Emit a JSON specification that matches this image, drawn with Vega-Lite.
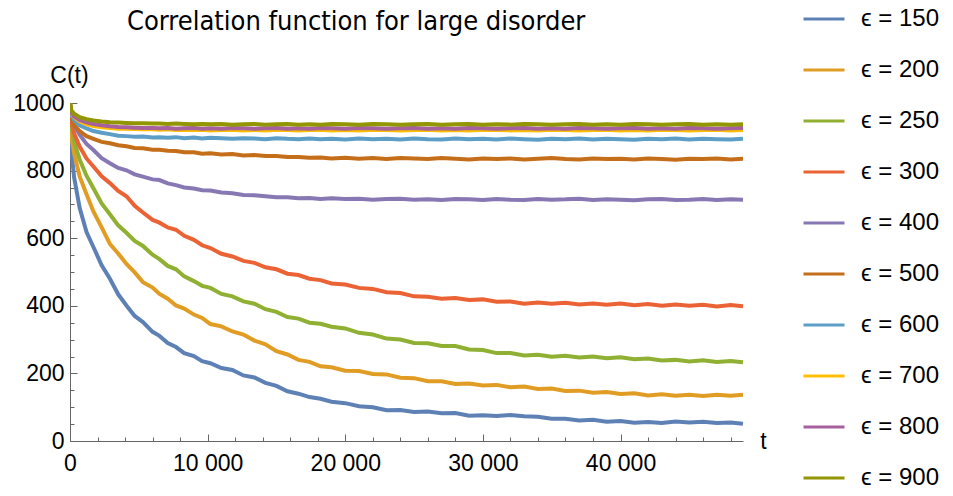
{
"$schema": "https://vega.github.io/schema/vega-lite/v6.json",
"width": 673, "height": 338, "autosize": "none",
"padding": {"left": 70, "top": 103, "right": 210, "bottom": 55},
"background": "white",
"config": {"view": {"stroke": null}, "font": "Liberation Sans"},
"title": {"text": "Correlation function for large disorder", "font": "DejaVu Sans Condensed", "fontSize": 27, "fontWeight": "normal", "color": "black", "anchor": "start", "frame": "group", "dx": 57, "offset": 0, "dy": 39},
"data": {"values": [
{"e":"150","t":0,"c":1000},{"e":"150","t":100,"c":860},{"e":"150","t":300,"c":780},{"e":"150","t":700,"c":690},{"e":"150","t":1200,"c":618},{"e":"150","t":1700,"c":574},{"e":"150","t":2300,"c":520},{"e":"150","t":2900,"c":480},{"e":"150","t":3500,"c":434},{"e":"150","t":4100,"c":401},{"e":"150","t":4700,"c":370},{"e":"150","t":5300,"c":352},{"e":"150","t":6000,"c":323},{"e":"150","t":6500,"c":311},{"e":"150","t":7100,"c":290},{"e":"150","t":7700,"c":278},{"e":"150","t":8300,"c":260},{"e":"150","t":9000,"c":251},{"e":"150","t":9600,"c":236},{"e":"150","t":10200,"c":230},{"e":"150","t":11000,"c":216},{"e":"150","t":11800,"c":210},{"e":"150","t":12600,"c":194},{"e":"150","t":13400,"c":188},{"e":"150","t":14200,"c":172},{"e":"150","t":15000,"c":163},{"e":"150","t":15800,"c":147},{"e":"150","t":16600,"c":140},{"e":"150","t":17400,"c":130},{"e":"150","t":18200,"c":125},{"e":"150","t":19000,"c":116},{"e":"150","t":20000,"c":112},{"e":"150","t":21000,"c":103},{"e":"150","t":22000,"c":100},{"e":"150","t":23000,"c":91},{"e":"150","t":24000,"c":92},{"e":"150","t":25000,"c":86},{"e":"150","t":26000,"c":87},{"e":"150","t":27000,"c":82},{"e":"150","t":28000,"c":83},{"e":"150","t":29000,"c":75},{"e":"150","t":30000,"c":76},{"e":"150","t":31000,"c":74},{"e":"150","t":32000,"c":77},{"e":"150","t":33000,"c":73},{"e":"150","t":34000,"c":72},{"e":"150","t":35000,"c":66},{"e":"150","t":36000,"c":66},{"e":"150","t":37000,"c":61},{"e":"150","t":38000,"c":63},{"e":"150","t":39000,"c":57},{"e":"150","t":40000,"c":59},{"e":"150","t":41000,"c":54},{"e":"150","t":42000,"c":56},{"e":"150","t":43000,"c":53},{"e":"150","t":44000,"c":58},{"e":"150","t":45000,"c":55},{"e":"150","t":46000,"c":57},{"e":"150","t":47000,"c":53},{"e":"150","t":48000,"c":55},{"e":"150","t":48900,"c":51},
{"e":"200","t":0,"c":1000},{"e":"200","t":100,"c":900},{"e":"200","t":300,"c":850},{"e":"200","t":700,"c":783},{"e":"200","t":1200,"c":730},{"e":"200","t":1700,"c":679},{"e":"200","t":2300,"c":632},{"e":"200","t":2900,"c":583},{"e":"200","t":3500,"c":555},{"e":"200","t":4100,"c":524},{"e":"200","t":4700,"c":499},{"e":"200","t":5300,"c":470},{"e":"200","t":6000,"c":454},{"e":"200","t":6500,"c":435},{"e":"200","t":7100,"c":421},{"e":"200","t":7700,"c":401},{"e":"200","t":8300,"c":392},{"e":"200","t":9000,"c":374},{"e":"200","t":9600,"c":364},{"e":"200","t":10200,"c":346},{"e":"200","t":11000,"c":339},{"e":"200","t":11800,"c":324},{"e":"200","t":12600,"c":315},{"e":"200","t":13400,"c":297},{"e":"200","t":14200,"c":286},{"e":"200","t":15000,"c":266},{"e":"200","t":15800,"c":256},{"e":"200","t":16600,"c":240},{"e":"200","t":17400,"c":234},{"e":"200","t":18200,"c":221},{"e":"200","t":19000,"c":218},{"e":"200","t":20000,"c":208},{"e":"200","t":21000,"c":207},{"e":"200","t":22000,"c":198},{"e":"200","t":23000,"c":197},{"e":"200","t":24000,"c":187},{"e":"200","t":25000,"c":186},{"e":"200","t":26000,"c":177},{"e":"200","t":27000,"c":177},{"e":"200","t":28000,"c":169},{"e":"200","t":29000,"c":170},{"e":"200","t":30000,"c":164},{"e":"200","t":31000,"c":166},{"e":"200","t":32000,"c":159},{"e":"200","t":33000,"c":161},{"e":"200","t":34000,"c":154},{"e":"200","t":35000,"c":155},{"e":"200","t":36000,"c":148},{"e":"200","t":37000,"c":149},{"e":"200","t":38000,"c":143},{"e":"200","t":39000,"c":145},{"e":"200","t":40000,"c":139},{"e":"200","t":41000,"c":141},{"e":"200","t":42000,"c":135},{"e":"200","t":43000,"c":138},{"e":"200","t":44000,"c":134},{"e":"200","t":45000,"c":137},{"e":"200","t":46000,"c":133},{"e":"200","t":47000,"c":137},{"e":"200","t":48000,"c":134},{"e":"200","t":48900,"c":137},
{"e":"250","t":0,"c":1000},{"e":"250","t":100,"c":930},{"e":"250","t":300,"c":885},{"e":"250","t":700,"c":833},{"e":"250","t":1200,"c":785},{"e":"250","t":1700,"c":748},{"e":"250","t":2300,"c":703},{"e":"250","t":2900,"c":671},{"e":"250","t":3500,"c":638},{"e":"250","t":4100,"c":616},{"e":"250","t":4700,"c":592},{"e":"250","t":5300,"c":577},{"e":"250","t":6000,"c":551},{"e":"250","t":6500,"c":538},{"e":"250","t":7100,"c":518},{"e":"250","t":7700,"c":508},{"e":"250","t":8300,"c":487},{"e":"250","t":9000,"c":473},{"e":"250","t":9600,"c":459},{"e":"250","t":10200,"c":453},{"e":"250","t":11000,"c":435},{"e":"250","t":11800,"c":428},{"e":"250","t":12600,"c":413},{"e":"250","t":13400,"c":406},{"e":"250","t":14200,"c":390},{"e":"250","t":15000,"c":382},{"e":"250","t":15800,"c":367},{"e":"250","t":16600,"c":362},{"e":"250","t":17400,"c":350},{"e":"250","t":18200,"c":347},{"e":"250","t":19000,"c":338},{"e":"250","t":20000,"c":333},{"e":"250","t":21000,"c":320},{"e":"250","t":22000,"c":315},{"e":"250","t":23000,"c":303},{"e":"250","t":24000,"c":300},{"e":"250","t":25000,"c":290},{"e":"250","t":26000,"c":289},{"e":"250","t":27000,"c":281},{"e":"250","t":28000,"c":281},{"e":"250","t":29000,"c":271},{"e":"250","t":30000,"c":269},{"e":"250","t":31000,"c":260},{"e":"250","t":32000,"c":260},{"e":"250","t":33000,"c":253},{"e":"250","t":34000,"c":255},{"e":"250","t":35000,"c":249},{"e":"250","t":36000,"c":252},{"e":"250","t":37000,"c":247},{"e":"250","t":38000,"c":250},{"e":"250","t":39000,"c":245},{"e":"250","t":40000,"c":248},{"e":"250","t":41000,"c":242},{"e":"250","t":42000,"c":244},{"e":"250","t":43000,"c":238},{"e":"250","t":44000,"c":240},{"e":"250","t":45000,"c":235},{"e":"250","t":46000,"c":239},{"e":"250","t":47000,"c":234},{"e":"250","t":48000,"c":237},{"e":"250","t":48900,"c":233},
{"e":"300","t":0,"c":1000},{"e":"300","t":100,"c":945},{"e":"300","t":300,"c":910},{"e":"300","t":700,"c":871},{"e":"300","t":1200,"c":836},{"e":"300","t":1700,"c":812},{"e":"300","t":2300,"c":783},{"e":"300","t":2900,"c":763},{"e":"300","t":3500,"c":740},{"e":"300","t":4100,"c":724},{"e":"300","t":4700,"c":696},{"e":"300","t":5300,"c":676},{"e":"300","t":6000,"c":654},{"e":"300","t":6500,"c":646},{"e":"300","t":7100,"c":632},{"e":"300","t":7700,"c":625},{"e":"300","t":8300,"c":607},{"e":"300","t":9000,"c":595},{"e":"300","t":9600,"c":579},{"e":"300","t":10200,"c":571},{"e":"300","t":11000,"c":554},{"e":"300","t":11800,"c":546},{"e":"300","t":12600,"c":533},{"e":"300","t":13400,"c":527},{"e":"300","t":14200,"c":514},{"e":"300","t":15000,"c":508},{"e":"300","t":15800,"c":495},{"e":"300","t":16600,"c":491},{"e":"300","t":17400,"c":480},{"e":"300","t":18200,"c":476},{"e":"300","t":19000,"c":466},{"e":"300","t":20000,"c":463},{"e":"300","t":21000,"c":453},{"e":"300","t":22000,"c":450},{"e":"300","t":23000,"c":440},{"e":"300","t":24000,"c":438},{"e":"300","t":25000,"c":428},{"e":"300","t":26000,"c":427},{"e":"300","t":27000,"c":421},{"e":"300","t":28000,"c":423},{"e":"300","t":29000,"c":417},{"e":"300","t":30000,"c":419},{"e":"300","t":31000,"c":412},{"e":"300","t":32000,"c":413},{"e":"300","t":33000,"c":406},{"e":"300","t":34000,"c":410},{"e":"300","t":35000,"c":406},{"e":"300","t":36000,"c":409},{"e":"300","t":37000,"c":404},{"e":"300","t":38000,"c":407},{"e":"300","t":39000,"c":403},{"e":"300","t":40000,"c":407},{"e":"300","t":41000,"c":402},{"e":"300","t":42000,"c":405},{"e":"300","t":43000,"c":400},{"e":"300","t":44000,"c":404},{"e":"300","t":45000,"c":400},{"e":"300","t":46000,"c":403},{"e":"300","t":47000,"c":398},{"e":"300","t":48000,"c":402},{"e":"300","t":48900,"c":399},
{"e":"400","t":0,"c":1000},{"e":"400","t":100,"c":960},{"e":"400","t":300,"c":935},{"e":"400","t":700,"c":906},{"e":"400","t":1200,"c":879},{"e":"400","t":1700,"c":861},{"e":"400","t":2300,"c":837},{"e":"400","t":2900,"c":822},{"e":"400","t":3500,"c":808},{"e":"400","t":4100,"c":801},{"e":"400","t":4700,"c":789},{"e":"400","t":5300,"c":782},{"e":"400","t":6000,"c":774},{"e":"400","t":6500,"c":772},{"e":"400","t":7100,"c":762},{"e":"400","t":7700,"c":757},{"e":"400","t":8300,"c":750},{"e":"400","t":9000,"c":747},{"e":"400","t":9600,"c":742},{"e":"400","t":10200,"c":741},{"e":"400","t":11000,"c":735},{"e":"400","t":11800,"c":733},{"e":"400","t":12600,"c":728},{"e":"400","t":13400,"c":727},{"e":"400","t":14200,"c":724},{"e":"400","t":15000,"c":721},{"e":"400","t":15800,"c":721},{"e":"400","t":16600,"c":718},{"e":"400","t":17400,"c":719},{"e":"400","t":18200,"c":716},{"e":"400","t":19000,"c":718},{"e":"400","t":20000,"c":716},{"e":"400","t":21000,"c":717},{"e":"400","t":22000,"c":714},{"e":"400","t":23000,"c":716},{"e":"400","t":24000,"c":717},{"e":"400","t":25000,"c":714},{"e":"400","t":26000,"c":715},{"e":"400","t":27000,"c":713},{"e":"400","t":28000,"c":716},{"e":"400","t":29000,"c":715},{"e":"400","t":30000,"c":713},{"e":"400","t":31000,"c":716},{"e":"400","t":32000,"c":714},{"e":"400","t":33000,"c":713},{"e":"400","t":34000,"c":716},{"e":"400","t":35000,"c":714},{"e":"400","t":36000,"c":715},{"e":"400","t":37000,"c":717},{"e":"400","t":38000,"c":713},{"e":"400","t":39000,"c":715},{"e":"400","t":40000,"c":714},{"e":"400","t":41000,"c":712},{"e":"400","t":42000,"c":715},{"e":"400","t":43000,"c":716},{"e":"400","t":44000,"c":713},{"e":"400","t":45000,"c":714},{"e":"400","t":46000,"c":716},{"e":"400","t":47000,"c":713},{"e":"400","t":48000,"c":715},{"e":"400","t":48900,"c":714},
{"e":"500","t":0,"c":1000},{"e":"500","t":100,"c":955},{"e":"500","t":300,"c":934},{"e":"500","t":700,"c":917},{"e":"500","t":1200,"c":902},{"e":"500","t":1700,"c":894},{"e":"500","t":2300,"c":885},{"e":"500","t":2900,"c":881},{"e":"500","t":3500,"c":875},{"e":"500","t":4100,"c":872},{"e":"500","t":4700,"c":867},{"e":"500","t":5300,"c":866},{"e":"500","t":6000,"c":862},{"e":"500","t":6500,"c":862},{"e":"500","t":7100,"c":859},{"e":"500","t":7700,"c":858},{"e":"500","t":8300,"c":854},{"e":"500","t":9000,"c":854},{"e":"500","t":9600,"c":850},{"e":"500","t":10200,"c":851},{"e":"500","t":11000,"c":848},{"e":"500","t":11800,"c":849},{"e":"500","t":12600,"c":845},{"e":"500","t":13400,"c":846},{"e":"500","t":14200,"c":843},{"e":"500","t":15000,"c":843},{"e":"500","t":15800,"c":840},{"e":"500","t":16600,"c":840},{"e":"500","t":17400,"c":838},{"e":"500","t":18200,"c":839},{"e":"500","t":19000,"c":836},{"e":"500","t":20000,"c":838},{"e":"500","t":21000,"c":835},{"e":"500","t":22000,"c":837},{"e":"500","t":23000,"c":834},{"e":"500","t":24000,"c":837},{"e":"500","t":25000,"c":836},{"e":"500","t":26000,"c":834},{"e":"500","t":27000,"c":837},{"e":"500","t":28000,"c":835},{"e":"500","t":29000,"c":833},{"e":"500","t":30000,"c":836},{"e":"500","t":31000,"c":834},{"e":"500","t":32000,"c":836},{"e":"500","t":33000,"c":833},{"e":"500","t":34000,"c":835},{"e":"500","t":35000,"c":837},{"e":"500","t":36000,"c":834},{"e":"500","t":37000,"c":833},{"e":"500","t":38000,"c":836},{"e":"500","t":39000,"c":834},{"e":"500","t":40000,"c":835},{"e":"500","t":41000,"c":833},{"e":"500","t":42000,"c":836},{"e":"500","t":43000,"c":834},{"e":"500","t":44000,"c":832},{"e":"500","t":45000,"c":835},{"e":"500","t":46000,"c":834},{"e":"500","t":47000,"c":836},{"e":"500","t":48000,"c":833},{"e":"500","t":48900,"c":835},
{"e":"600","t":0,"c":1000},{"e":"600","t":100,"c":965},{"e":"600","t":300,"c":950},{"e":"600","t":700,"c":934},{"e":"600","t":1200,"c":925},{"e":"600","t":1700,"c":917},{"e":"600","t":2300,"c":912},{"e":"600","t":2900,"c":908},{"e":"600","t":3500,"c":903},{"e":"600","t":4100,"c":902},{"e":"600","t":4700,"c":900},{"e":"600","t":5300,"c":901},{"e":"600","t":6000,"c":898},{"e":"600","t":6500,"c":899},{"e":"600","t":7100,"c":897},{"e":"600","t":7700,"c":899},{"e":"600","t":8300,"c":896},{"e":"600","t":9000,"c":898},{"e":"600","t":9600,"c":895},{"e":"600","t":10200,"c":897},{"e":"600","t":11000,"c":896},{"e":"600","t":11800,"c":894},{"e":"600","t":12600,"c":896},{"e":"600","t":13400,"c":895},{"e":"600","t":14200,"c":893},{"e":"600","t":15000,"c":896},{"e":"600","t":15800,"c":894},{"e":"600","t":16600,"c":893},{"e":"600","t":17400,"c":895},{"e":"600","t":18200,"c":893},{"e":"600","t":19000,"c":894},{"e":"600","t":20000,"c":892},{"e":"600","t":21000,"c":895},{"e":"600","t":22000,"c":893},{"e":"600","t":23000,"c":894},{"e":"600","t":24000,"c":892},{"e":"600","t":25000,"c":895},{"e":"600","t":26000,"c":893},{"e":"600","t":27000,"c":892},{"e":"600","t":28000,"c":895},{"e":"600","t":29000,"c":893},{"e":"600","t":30000,"c":894},{"e":"600","t":31000,"c":892},{"e":"600","t":32000,"c":895},{"e":"600","t":33000,"c":893},{"e":"600","t":34000,"c":891},{"e":"600","t":35000,"c":894},{"e":"600","t":36000,"c":893},{"e":"600","t":37000,"c":895},{"e":"600","t":38000,"c":892},{"e":"600","t":39000,"c":894},{"e":"600","t":40000,"c":893},{"e":"600","t":41000,"c":891},{"e":"600","t":42000,"c":894},{"e":"600","t":43000,"c":893},{"e":"600","t":44000,"c":895},{"e":"600","t":45000,"c":892},{"e":"600","t":46000,"c":894},{"e":"600","t":47000,"c":893},{"e":"600","t":48000,"c":892},{"e":"600","t":48900,"c":894},
{"e":"700","t":0,"c":1000},{"e":"700","t":100,"c":970},{"e":"700","t":300,"c":958},{"e":"700","t":700,"c":946},{"e":"700","t":1200,"c":937},{"e":"700","t":1700,"c":932},{"e":"700","t":2300,"c":928},{"e":"700","t":2900,"c":926},{"e":"700","t":3500,"c":924},{"e":"700","t":4100,"c":924},{"e":"700","t":4700,"c":923},{"e":"700","t":5300,"c":922},{"e":"700","t":6000,"c":922},{"e":"700","t":6500,"c":921},{"e":"700","t":7100,"c":922},{"e":"700","t":7700,"c":920},{"e":"700","t":8300,"c":921},{"e":"700","t":9000,"c":920},{"e":"700","t":9600,"c":921},{"e":"700","t":10200,"c":919},{"e":"700","t":11000,"c":920},{"e":"700","t":11800,"c":921},{"e":"700","t":12600,"c":919},{"e":"700","t":13400,"c":920},{"e":"700","t":14200,"c":919},{"e":"700","t":15000,"c":921},{"e":"700","t":15800,"c":920},{"e":"700","t":16600,"c":919},{"e":"700","t":17400,"c":920},{"e":"700","t":18200,"c":921},{"e":"700","t":19000,"c":919},{"e":"700","t":20000,"c":920},{"e":"700","t":21000,"c":919},{"e":"700","t":22000,"c":921},{"e":"700","t":23000,"c":920},{"e":"700","t":24000,"c":919},{"e":"700","t":25000,"c":920},{"e":"700","t":26000,"c":921},{"e":"700","t":27000,"c":919},{"e":"700","t":28000,"c":920},{"e":"700","t":29000,"c":919},{"e":"700","t":30000,"c":921},{"e":"700","t":31000,"c":920},{"e":"700","t":32000,"c":919},{"e":"700","t":33000,"c":920},{"e":"700","t":34000,"c":919},{"e":"700","t":35000,"c":921},{"e":"700","t":36000,"c":920},{"e":"700","t":37000,"c":919},{"e":"700","t":38000,"c":920},{"e":"700","t":39000,"c":921},{"e":"700","t":40000,"c":919},{"e":"700","t":41000,"c":920},{"e":"700","t":42000,"c":919},{"e":"700","t":43000,"c":921},{"e":"700","t":44000,"c":920},{"e":"700","t":45000,"c":919},{"e":"700","t":46000,"c":920},{"e":"700","t":47000,"c":921},{"e":"700","t":48000,"c":919},{"e":"700","t":48900,"c":920},
{"e":"800","t":0,"c":1000},{"e":"800","t":100,"c":972},{"e":"800","t":300,"c":960},{"e":"800","t":700,"c":950},{"e":"800","t":1200,"c":943},{"e":"800","t":1700,"c":938},{"e":"800","t":2300,"c":934},{"e":"800","t":2900,"c":931},{"e":"800","t":3500,"c":929},{"e":"800","t":4100,"c":928},{"e":"800","t":4700,"c":927},{"e":"800","t":5300,"c":926},{"e":"800","t":6000,"c":926},{"e":"800","t":6500,"c":925},{"e":"800","t":7100,"c":926},{"e":"800","t":7700,"c":924},{"e":"800","t":8300,"c":925},{"e":"800","t":9000,"c":926},{"e":"800","t":9600,"c":924},{"e":"800","t":10200,"c":925},{"e":"800","t":11000,"c":924},{"e":"800","t":11800,"c":926},{"e":"800","t":12600,"c":925},{"e":"800","t":13400,"c":924},{"e":"800","t":14200,"c":925},{"e":"800","t":15000,"c":926},{"e":"800","t":15800,"c":924},{"e":"800","t":16600,"c":925},{"e":"800","t":17400,"c":924},{"e":"800","t":18200,"c":926},{"e":"800","t":19000,"c":925},{"e":"800","t":20000,"c":924},{"e":"800","t":21000,"c":926},{"e":"800","t":22000,"c":925},{"e":"800","t":23000,"c":924},{"e":"800","t":24000,"c":925},{"e":"800","t":25000,"c":926},{"e":"800","t":26000,"c":924},{"e":"800","t":27000,"c":925},{"e":"800","t":28000,"c":924},{"e":"800","t":29000,"c":926},{"e":"800","t":30000,"c":925},{"e":"800","t":31000,"c":924},{"e":"800","t":32000,"c":925},{"e":"800","t":33000,"c":926},{"e":"800","t":34000,"c":924},{"e":"800","t":35000,"c":925},{"e":"800","t":36000,"c":924},{"e":"800","t":37000,"c":926},{"e":"800","t":38000,"c":925},{"e":"800","t":39000,"c":924},{"e":"800","t":40000,"c":925},{"e":"800","t":41000,"c":926},{"e":"800","t":42000,"c":924},{"e":"800","t":43000,"c":925},{"e":"800","t":44000,"c":924},{"e":"800","t":45000,"c":926},{"e":"800","t":46000,"c":925},{"e":"800","t":47000,"c":924},{"e":"800","t":48000,"c":925},{"e":"800","t":48900,"c":926},
{"e":"900","t":0,"c":1000},{"e":"900","t":100,"c":978},{"e":"900","t":300,"c":968},{"e":"900","t":700,"c":958},{"e":"900","t":1200,"c":952},{"e":"900","t":1700,"c":948},{"e":"900","t":2300,"c":945},{"e":"900","t":2900,"c":943},{"e":"900","t":3500,"c":942},{"e":"900","t":4100,"c":941},{"e":"900","t":4700,"c":940},{"e":"900","t":5300,"c":940},{"e":"900","t":6000,"c":939},{"e":"900","t":6500,"c":939},{"e":"900","t":7100,"c":938},{"e":"900","t":7700,"c":939},{"e":"900","t":8300,"c":938},{"e":"900","t":9000,"c":937},{"e":"900","t":9600,"c":938},{"e":"900","t":10200,"c":937},{"e":"900","t":11000,"c":938},{"e":"900","t":11800,"c":936},{"e":"900","t":12600,"c":937},{"e":"900","t":13400,"c":938},{"e":"900","t":14200,"c":936},{"e":"900","t":15000,"c":937},{"e":"900","t":15800,"c":938},{"e":"900","t":16600,"c":936},{"e":"900","t":17400,"c":937},{"e":"900","t":18200,"c":936},{"e":"900","t":19000,"c":938},{"e":"900","t":20000,"c":937},{"e":"900","t":21000,"c":936},{"e":"900","t":22000,"c":938},{"e":"900","t":23000,"c":937},{"e":"900","t":24000,"c":936},{"e":"900","t":25000,"c":937},{"e":"900","t":26000,"c":938},{"e":"900","t":27000,"c":936},{"e":"900","t":28000,"c":937},{"e":"900","t":29000,"c":938},{"e":"900","t":30000,"c":936},{"e":"900","t":31000,"c":937},{"e":"900","t":32000,"c":936},{"e":"900","t":33000,"c":938},{"e":"900","t":34000,"c":937},{"e":"900","t":35000,"c":936},{"e":"900","t":36000,"c":937},{"e":"900","t":37000,"c":938},{"e":"900","t":38000,"c":936},{"e":"900","t":39000,"c":937},{"e":"900","t":40000,"c":936},{"e":"900","t":41000,"c":938},{"e":"900","t":42000,"c":937},{"e":"900","t":43000,"c":936},{"e":"900","t":44000,"c":937},{"e":"900","t":45000,"c":938},{"e":"900","t":46000,"c":936},{"e":"900","t":47000,"c":937},{"e":"900","t":48000,"c":936},{"e":"900","t":48900,"c":937}
]},
"layer": [
{"mark": {"type": "line", "opacity": 0},
 "encoding": {
  "detail": {"field": "e", "type": "nominal"},
  "x": {"field": "t", "type": "quantitative", "scale": {"domain": [0, 48900], "nice": false, "zero": false},
        "axis": {"orient": "bottom", "values": [2000,4000,6000,8000,12000,14000,16000,18000,22000,24000,26000,28000,32000,34000,36000,38000,42000,44000,46000,48000], "labels": false, "domain": false, "grid": false, "title": null, "tickSize": -4, "tickColor": "#666666", "tickWidth": 1}},
  "y": {"field": "c", "type": "quantitative", "scale": {"domain": [0, 1000], "nice": false},
        "axis": {"orient": "left", "values": [50,100,150,250,300,350,450,500,550,650,700,750,850,900,950], "labels": false, "domain": false, "grid": false, "title": null, "tickSize": -4, "tickColor": "#666666", "tickWidth": 1}}
 }},
{"mark": {"type": "line", "strokeWidth": 4, "clip": true},
 "encoding": {
  "x": {"field": "t", "type": "quantitative", "scale": {"domain": [0, 48900], "nice": false, "zero": false},
        "axis": {"orient": "bottom", "values": [0,10000,20000,30000,40000], "labelExpr": "replace(format(datum.value, ','), ',', ' ')", "grid": false, "tickSize": -7, "tickColor": "#666666", "tickWidth": 1, "domainColor": "#666666", "domainWidth": 1, "labelPadding": 18, "labelFont": "Liberation Sans", "labelFontSize": 23, "labelColor": "black", "labelFlush": false, "labelOverlap": false,
                 "title": "t", "titleFont": "Liberation Sans", "titleFontSize": 23, "titleFontWeight": "normal", "titleColor": "black", "titleX": 693, "titleY": 0, "titleAlign": "center", "titleBaseline": "middle", "titleAnchor": null}},
  "y": {"field": "c", "type": "quantitative", "scale": {"domain": [0, 1000], "nice": false},
        "axis": {"orient": "left", "values": [0,200,400,600,800,1000], "format": "d", "grid": false, "tickSize": -7, "tickColor": "#666666", "tickWidth": 1, "domainColor": "#666666", "domainWidth": 1, "labelPadding": 13, "labelFont": "Liberation Sans", "labelFontSize": 23, "labelColor": "black", "labelFlush": false, "labelOverlap": false,
                 "title": "C(t)", "titleFont": "Liberation Sans", "titleFontSize": 23, "titleFontWeight": "normal", "titleColor": "black", "titleAngle": 0, "titleX": -1, "titleY": -21, "titleAlign": "center", "titleBaseline": "alphabetic"}},
  "color": {"field": "e", "type": "nominal",
            "scale": {"domain": ["150","200","250","300","400","500","600","700","800","900"], "range": ["#5E81B5","#E19C24","#8FB032","#EB6235","#8778B3","#C56E1A","#5D9EC7","#FFBF00","#A5609D","#929600"]},
            "legend": {"orient": "none", "legendX": 732, "legendY": -106, "title": null, "symbolType": "stroke", "symbolSize": 1681, "symbolStrokeWidth": 3, "labelFont": "Liberation Sans", "labelFontSize": 24, "labelColor": "black", "labelOffset": 15, "rowPadding": 17, "labelExpr": "'ϵ = ' + datum.label", "padding": 0}}
 }}
],
"resolve": {"axis": {"x": "independent", "y": "independent"}}
}
